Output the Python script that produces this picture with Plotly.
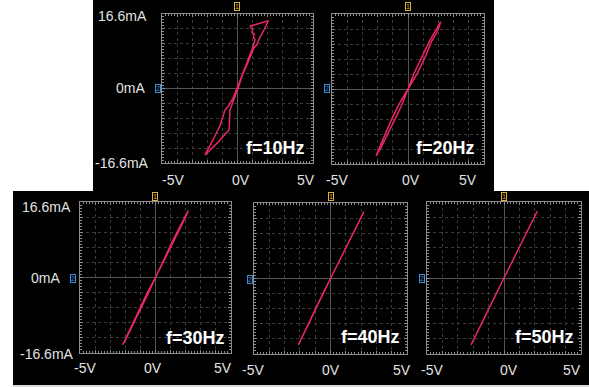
import plotly.graph_objects as go

W, H = 589, 387

# ---------------- data (V, mA) ----------------
freq_labels = ["f=10Hz", "f=20Hz", "f=30Hz", "f=40Hz", "f=50Hz"]
x_tick_labels = ["-5V", "0V", "5V"]
y_tick_labels = ["16.6mA", "0mA", "-16.6mA"]

v_10 = [0.0, 0.3, 0.55, 0.62, 0.9, 1.02, 1.16, 1.05, 1.12, 0.95, 1.02, 0.88, 0.83, 1.4, 2.04,
        1.75, 1.45, 1.27, 1.08, 0.78, 0.6, 0.35, 0.05, -0.25, -0.5, -0.53, -0.55,
        -1.3, -2.15, -1.6, -1.15, -0.83, -0.6, -0.3, 0.0]
i_10 = [0.3, 2.9, 4.7, 5.6, 7.9, 9.2, 10.9, 11.5, 12.1, 12.6, 13.1, 13.5, 13.9, 14.5, 15.1,
        13.0, 11.2, 9.7, 9.0, 6.5, 5.0, 3.2, 0.2, -2.6, -4.8, -7.0, -9.2,
        -12.0, -14.8, -11.3, -8.2, -4.8, -3.9, -2.2, 0.3]

v_20 = [0.0, 0.4, 0.9, 1.4, 1.82, 2.15, 1.97, 1.55, 1.12, 0.62, 0.0,
        -0.62, -1.12, -1.55, -1.9, -2.1, -1.78, -1.4, -0.9, -0.4, 0.0]
i_20 = [0.0, 3.5, 7.0, 10.5, 13.0, 14.9, 13.0, 10.5, 7.0, 3.5, 0.0,
        -3.5, -7.0, -10.5, -13.0, -14.8, -13.0, -10.5, -7.0, -3.5, 0.0]

v_30 = [0.0, 0.48, 0.99, 1.51, 1.93, 2.17, 1.98, 1.58, 1.07, 0.56, 0.0,
        -0.56, -1.07, -1.58, -1.98, -2.17, -1.93, -1.51, -0.99, -0.48, 0.0]
i_30 = [0.0, 3.5, 7.0, 10.5, 13.2, 14.7, 13.2, 10.5, 7.0, 3.5, 0.0,
        -3.5, -7.0, -10.5, -13.3, -14.8, -13.3, -10.5, -7.0, -3.5, 0.0]

v_40 = [0.0, 0.51, 1.03, 1.55, 1.95, 2.19, 1.97, 1.57, 1.05, 0.53, 0.0,
        -0.52, -1.02, -1.52, -1.89, -2.1, -1.87, -1.5, -1.0, -0.5, 0.0]
i_40 = [0.0, 3.5, 7.0, 10.5, 13.2, 14.7, 13.2, 10.5, 7.0, 3.5, 0.0,
        -3.5, -7.0, -10.5, -13.2, -14.6, -13.2, -10.5, -7.0, -3.5, 0.0]

v_50 = [0.0, 0.51, 1.03, 1.54, 1.94, 2.16, 1.96, 1.56, 1.05, 0.53, 0.0,
        -0.52, -1.03, -1.55, -1.93, -2.14, -1.91, -1.53, -1.01, -0.5, 0.0]
i_50 = [0.0, 3.5, 7.0, 10.5, 13.1, 14.6, 13.1, 10.5, 7.0, 3.5, 0.0,
        -3.5, -7.0, -10.5, -13.1, -14.6, -13.1, -10.5, -7.0, -3.5, 0.0]

series_v = [v_10, v_20, v_30, v_40, v_50]
series_i = [i_10, i_20, i_30, i_40, i_50]

# ---------------- layout (pixels) ----------------
frames = [(162, 313, 14, 163), (332, 484, 14, 164),
          (80, 231, 202, 353), (254, 407, 203, 354), (427, 581, 202, 354)]
xlab_pos = [((173, 241, 306), 180), ((337, 411, 468), 180),
            ((85, 152.5, 223), 368), ((253, 331, 402), 370), ((432, 509, 572), 370)]
# y labels: [(right x, y) for top, mid, bottom] for panels 1 and 3
ylab_pos = {0: [(149, 16), (147, 88), (151, 163)],
            2: [(73, 207), (62, 278), (76, 354)]}
flab_pos = [(307, 148), (477, 148), (227, 338), (402, 337), (576, 337)]
trig_pos = [(237, 7), (408, 7), (155, 196), (331, 196), (504, 196)]
ch2_pos = [(158, 88), (327, 88), (73, 278), (250, 279), (422, 278)]

def px(x):
    return x / W

def py(y):
    return 1 - y / H

TRACE_COL = "#e8295f"
GRID_COL = "#3a3a3a"
FRAME_COL = "#8c8c8c"
TXT_COL = "#e2e2e2"
FONT = "Liberation Sans, Arial, sans-serif"

fig = go.Figure()
layout = dict(
    width=W, height=H, margin=dict(l=0, r=0, t=0, b=0),
    paper_bgcolor="white", plot_bgcolor="black", showlegend=False,
    shapes=[], annotations=[],
)

layout["shapes"].append(dict(type="rect", xref="paper", yref="paper", layer="below",
                             x0=px(93), x1=px(494), y0=py(0), y1=py(191),
                             fillcolor="black", line=dict(width=0)))
layout["shapes"].append(dict(type="rect", xref="paper", yref="paper", layer="below",
                             x0=px(13), x1=px(589), y0=py(191), y1=py(385),
                             fillcolor="black", line=dict(width=0)))
layout["shapes"].append(dict(type="line", xref="paper", yref="paper",
                             x0=px(13), x1=px(589), y0=py(386), y1=py(386),
                             line=dict(color="#b5b5b5", width=1)))

for k in range(5):
    sfx = "" if k == 0 else str(k + 1)
    x0, x1, y0, y1 = frames[k]
    common = dict(showline=True, mirror="allticks", linecolor=FRAME_COL, linewidth=1,
                  showgrid=True, gridcolor=GRID_COL, griddash="dot", gridwidth=1,
                  zeroline=True, zerolinecolor="#555555", zerolinewidth=1,
                  ticks="inside", ticklen=3, tickcolor=FRAME_COL,
                  showticklabels=False, fixedrange=True)
    layout["xaxis" + sfx] = dict(common, domain=[px(x0), px(x1)], range=[-5, 5],
                                 dtick=1, tick0=0, anchor="y" + sfx,
                                 minor=dict(ticks="inside", ticklen=2, dtick=0.2,
                                            tickcolor=FRAME_COL, showgrid=False))
    layout["yaxis" + sfx] = dict(common, domain=[py(y1), py(y0)], range=[-16.6, 16.6],
                                 dtick=3.32, tick0=0, anchor="x" + sfx,
                                 minor=dict(ticks="inside", ticklen=2, dtick=0.664,
                                            tickcolor=FRAME_COL, showgrid=False))
    fig.add_trace(go.Scatter(x=series_v[k], y=series_i[k], mode="lines",
                             line=dict(color=TRACE_COL, width=1.5),
                             xaxis="x" + sfx, yaxis="y" + sfx, hoverinfo="skip"))

    xs, yb = xlab_pos[k]
    for t, xc in zip(x_tick_labels, xs):
        layout["annotations"].append(dict(text=t, x=px(xc), y=py(yb), xref="paper", yref="paper",
                                          showarrow=False, xanchor="center", yanchor="middle",
                                          font=dict(family=FONT, size=14, color=TXT_COL)))
    fx, fy = flab_pos[k]
    layout["annotations"].append(dict(text="<b>%s</b>" % freq_labels[k], x=px(fx), y=py(fy),
                                      xref="paper", yref="paper", showarrow=False,
                                      xanchor="right", yanchor="middle",
                                      font=dict(family=FONT, size=18, color="white")))
    tx, ty = trig_pos[k]
    layout["annotations"].append(dict(text="1", x=px(tx), y=py(ty), xref="paper", yref="paper",
                                      showarrow=False, xanchor="center", yanchor="middle",
                                      font=dict(family=FONT, size=7, color="#d8b43c"),
                                      bordercolor="#d8b43c", borderwidth=1, borderpad=0))
    cx, cy = ch2_pos[k]
    layout["annotations"].append(dict(text="2", x=px(cx), y=py(cy), xref="paper", yref="paper",
                                      showarrow=False, xanchor="center", yanchor="middle",
                                      font=dict(family=FONT, size=7, color="#3d8fd6"),
                                      bordercolor="#3d8fd6", borderwidth=1, borderpad=0))

for k, items in ylab_pos.items():
    for t, (rx, yc) in zip(y_tick_labels, items):
        layout["annotations"].append(dict(text=t, x=px(rx), y=py(yc), xref="paper", yref="paper",
                                          showarrow=False, xanchor="right", yanchor="middle",
                                          font=dict(family=FONT, size=14, color=TXT_COL)))

fig.update_layout(**layout)
fig.write_html("out.html")
